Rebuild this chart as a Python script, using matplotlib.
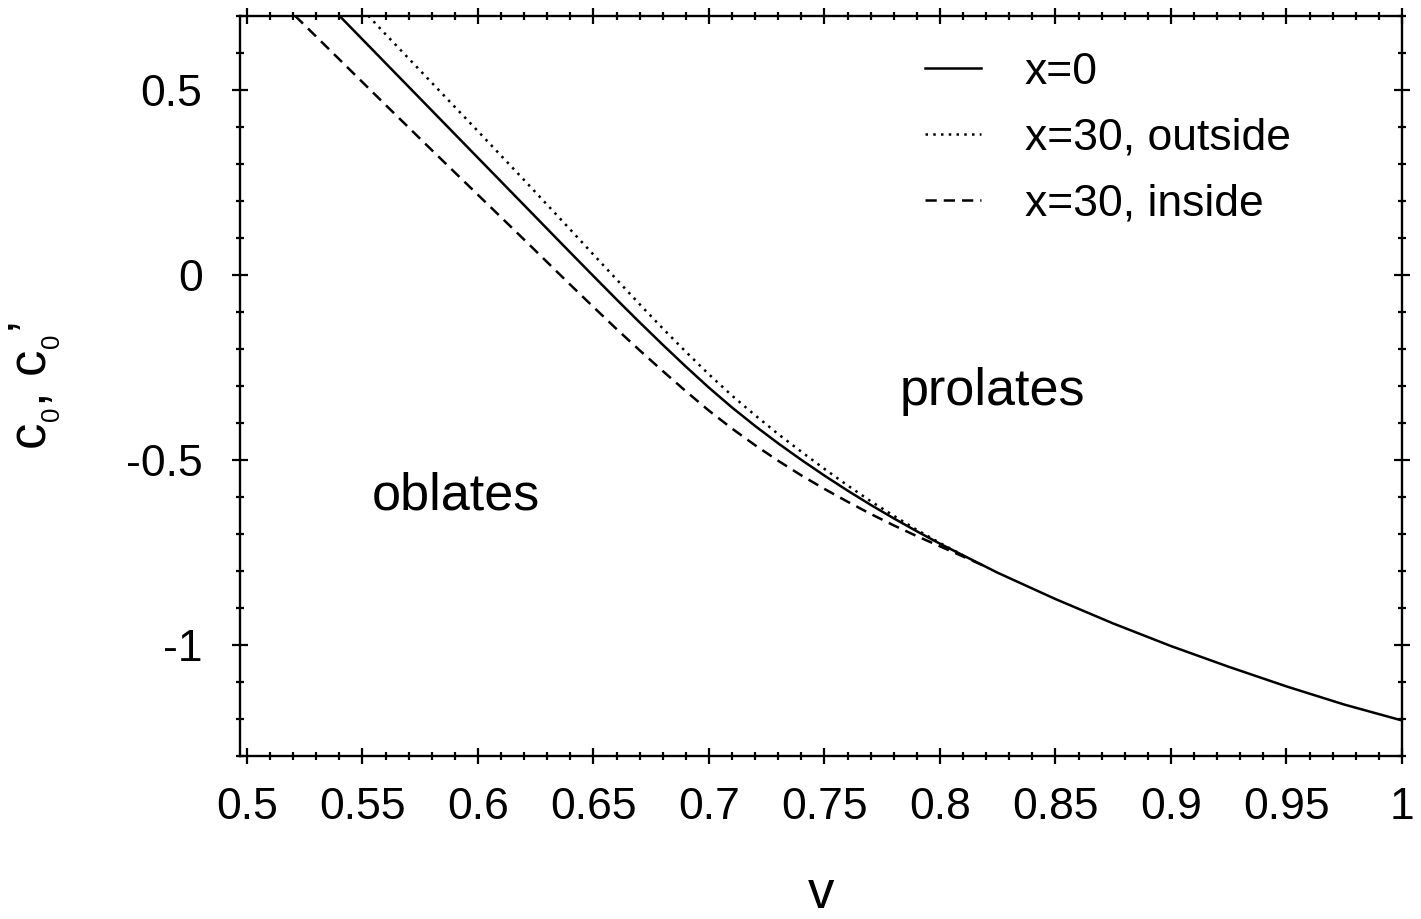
import matplotlib
matplotlib.use("Agg")
import matplotlib.pyplot as plt
from matplotlib.ticker import MultipleLocator, FixedLocator

plt.rcParams['font.family'] = ['Liberation Sans', 'DejaVu Sans']
plt.rcParams['mathtext.fontset'] = 'custom'
plt.rcParams['mathtext.rm'] = 'Liberation Sans'
plt.rcParams['mathtext.it'] = 'Liberation Sans'

# ---- data ----
v_x0 = [0.540, 0.56, 0.58, 0.60, 0.62, 0.64, 0.65, 0.66, 0.67, 0.68, 0.69,
        0.70, 0.71, 0.72, 0.73, 0.74, 0.75, 0.76, 0.77, 0.78, 0.79, 0.80,
        0.825, 0.85, 0.875, 0.90, 0.925, 0.95, 0.975, 1.00]
c_x0 = [0.700, 0.572, 0.444, 0.316, 0.188, 0.060, -0.0035, -0.0665, -0.1285,
        -0.189, -0.248, -0.305, -0.3585, -0.4085, -0.4555, -0.500, -0.5425,
        -0.583, -0.6215, -0.658, -0.693, -0.7265, -0.805, -0.876, -0.942,
        -1.003, -1.059, -1.112, -1.161, -1.204]

v_out = [0.5525, 0.56, 0.58, 0.60, 0.62, 0.63, 0.64, 0.65, 0.66, 0.67, 0.68,
         0.69, 0.70, 0.71, 0.72, 0.73, 0.74, 0.75, 0.76, 0.77, 0.78, 0.79,
         0.80, 0.81]
c_out = [0.700, 0.650, 0.519, 0.388, 0.256, 0.189, 0.122, 0.0545, -0.0125,
         -0.0795, -0.145, -0.208, -0.269, -0.3265, -0.3795, -0.4305, -0.478,
         -0.5245, -0.569, -0.6115, -0.651, -0.689, -0.7245, -0.758]

v_in = [0.5208, 0.54, 0.56, 0.58, 0.60, 0.62, 0.64, 0.65, 0.66, 0.67, 0.68,
        0.69, 0.70, 0.71, 0.72, 0.73, 0.74, 0.75, 0.76, 0.77, 0.78, 0.79,
        0.80, 0.81, 0.82]
c_in = [0.700, 0.582, 0.459, 0.337, 0.216, 0.095, -0.027, -0.087, -0.1465,
        -0.204, -0.260, -0.3145, -0.367, -0.4155, -0.4605, -0.5025, -0.542,
        -0.5785, -0.613, -0.646, -0.677, -0.706, -0.7335, -0.761, -0.789]

labels = ["x=0", "x=30, outside", "x=30, inside"]
xticks = [0.5, 0.55, 0.6, 0.65, 0.7, 0.75, 0.8, 0.85, 0.9, 0.95, 1.0]
xticklabels = ["0.5", "0.55", "0.6", "0.65", "0.7", "0.75", "0.8", "0.85", "0.9", "0.95", "1"]
yticks = [-1.0, -0.5, 0.0, 0.5]
yticklabels = ["-1", "-0.5", "0", "0.5"]

fig = plt.figure(figsize=(14.21, 9.19), dpi=100)
ax = fig.add_axes([240/1421, 1-756/919, (1402-240)/1421, (756-15.7)/919])

lw = 1.8
ax.plot(v_x0, c_x0, color='black', lw=lw, ls='-', label=labels[0])
ax.plot(v_out, c_out, color='black', lw=lw, dashes=(1.0, 2.1), label=labels[1])
ax.plot(v_in, c_in, color='black', lw=lw, dashes=(4.5, 2.8), label=labels[2])

ax.set_xlim(0.497, 1.0)
ax.set_ylim(-1.3, 0.7)

ax.xaxis.set_major_locator(FixedLocator(xticks))
ax.set_xticklabels(xticklabels)
ax.xaxis.set_minor_locator(MultipleLocator(0.01))
ax.yaxis.set_major_locator(FixedLocator(yticks))
ax.set_yticklabels(yticklabels)
ax.yaxis.set_minor_locator(MultipleLocator(0.1))

for s in ax.spines.values():
    s.set_linewidth(1.7)
ax.tick_params(which='both', direction='inout', top=True, right=True,
               width=1.6, labelsize=32)
ax.tick_params(which='major', length=12)
ax.tick_params(which='minor', length=6)
ax.tick_params(axis='x', which='major', pad=16)
ax.tick_params(axis='y', which='major', pad=21)

ax.set_xlabel("v", fontsize=38, labelpad=30)
ax.set_ylabel(r"c$_{_0}$, c$_{_0}$’", fontsize=38, labelpad=46)

ax.text(0.7826, -0.352, "prolates", fontsize=37.5, ha='left', va='baseline')
ax.text(0.5541, -0.635, "oblates", fontsize=37.5, ha='left', va='baseline')

leg = ax.legend(loc='upper left', bbox_to_anchor=(0.5895, 0.951), frameon=False,
                fontsize=32, handlelength=1.25, handletextpad=1.0,
                labelspacing=0.56, borderpad=0, borderaxespad=0)

fig.savefig("out.png", dpi=100)
